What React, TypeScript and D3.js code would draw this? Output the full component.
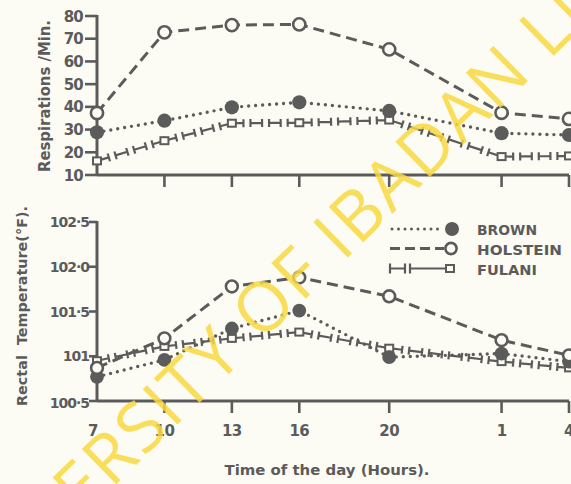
import React from "react";
import * as d3 from "d3";

// Time of day at which each reading was taken (clock hours, 7 am through 4 am next day)
const clockHours = [7, 10, 13, 16, 20, 1, 4];
const hourLabels = ["7", "10", "13", "16", "20", "1", "4"];

// Respiration rate (breaths / min)
const respBrown = [28.8, 33.9, 39.8, 42.0, 38.2, 28.4, 27.6];
const respHolstein = [37.3, 72.8, 76.0, 76.3, 65.3, 37.4, 34.7];
const respFulani = [16.2, 25.1, 32.8, 33.0, 34.2, 18.1, 18.4];

// Rectal temperature (°F)
const tempBrown = [100.77, 100.96, 101.31, 101.51, 100.99, 101.03, 100.94];
const tempHolstein = [100.87, 101.2, 101.78, 101.88, 101.67, 101.18, 101.01];
const tempFulani = [100.95, 101.11, 101.2, 101.27, 101.09, 100.94, 100.87];

const respTicks = [10, 20, 30, 40, 50, 60, 70, 80];
const tempTicks = [100.5, 101, 101.5, 102, 102.5];
const tempTickLabels = ["100·5", "101", "101·5", "102·0", "102·5"];

const seriesNames = ["BROWN", "HOLSTEIN", "FULANI"];

const INK = "#5b5b5b";
const PAPER = "#fdfcf4";
const FONT = "'DejaVu Sans', Verdana, sans-serif";

// hours elapsed on a continuous clock (after midnight continues past 24)
const elapsed = (h: number) => (h < 7 ? h + 24 : h);

const x = d3.scaleLinear().domain([7, 28]).range([97, 569]);
const yResp = d3.scaleLinear().domain([10, 80]).range([175, 16]);
const yTemp = d3.scaleLinear().domain([100.5, 102.5]).range([401, 222]);

type Pt = [number, number];

// Dashes with perpendicular end caps ("|—|"), restarted on every segment
function cappedDashes(points: Pt[], dash: number, gap: number, cap: number, startCap = true, endCap = true) {
  const out: { d: string }[] = [];
  for (let i = 0; i < points.length - 1; i++) {
    const [x0, y0] = points[i];
    const [x1, y1] = points[i + 1];
    const L = Math.hypot(x1 - x0, y1 - y0);
    const ux = (x1 - x0) / L;
    const uy = (y1 - y0) / L;
    const px = -uy * (cap / 2);
    const py = ux * (cap / 2);
    const n = Math.max(1, Math.round((L + gap) / (dash + gap)));
    const unit = (L + gap) / n;
    const dl = unit - gap;
    for (let k = 0; k < n; k++) {
      const s = k * unit;
      const e = s + dl;
      const ax = x0 + ux * s, ay = y0 + uy * s;
      const bx = x0 + ux * e, by = y0 + uy * e;
      let d = `M${ax},${ay}L${bx},${by}`;
      if (startCap) d += `M${ax - px},${ay - py}L${ax + px},${ay + py}`;
      if (endCap) d += `M${bx - px},${by - py}L${bx + px},${by + py}`;
      out.push({ d });
    }
  }
  return out;
}

const lineGen = d3.line<Pt>().x((p) => p[0]).y((p) => p[1]);

function Panel({
  y,
  brown,
  holstein,
  fulani,
  r,
}: {
  y: d3.ScaleLinear<number, number>;
  brown: number[];
  holstein: number[];
  fulani: number[];
  r: number;
}) {
  const pts = (vals: number[]): Pt[] => vals.map((v, i) => [x(elapsed(clockHours[i])), y(v)]);
  const pb = pts(brown);
  const ph = pts(holstein);
  const pf = pts(fulani);
  return (
    <g>
      {/* Fulani: capped dashes with small open squares */}
      {cappedDashes(pf, 13, 7, 8).map((s, i) => (
        <path key={i} d={s.d} stroke={INK} strokeWidth={2.2} fill="none" />
      ))}
      {/* Brown: dotted */}
      <path d={lineGen(pb) || ""} stroke={INK} strokeWidth={3.4} strokeDasharray="0 7" strokeLinecap="round" fill="none" />
      {/* Holstein: dashed */}
      <path d={lineGen(ph) || ""} stroke={INK} strokeWidth={3} strokeDasharray="11 6" fill="none" />
      {pf.map((p, i) => (
        <rect key={i} x={p[0] - 4} y={p[1] - 3.5} width={8} height={7} fill={PAPER} stroke={INK} strokeWidth={2} />
      ))}
      {pb.map((p, i) => (
        <circle key={i} cx={p[0]} cy={p[1]} r={r + 0.6} fill={INK} />
      ))}
      {ph.map((p, i) => (
        <circle key={i} cx={p[0]} cy={p[1]} r={r - 0.4} fill={PAPER} stroke={INK} strokeWidth={2.6} />
      ))}
    </g>
  );
}

function XAxis({ y0, labels }: { y0: number; labels: boolean }) {
  return (
    <g>
      <line x1={x(7)} x2={x(28)} y1={y0} y2={y0} stroke={INK} strokeWidth={3} />
      {clockHours.slice(1).map((h) => (
        <line key={h} x1={x(elapsed(h))} x2={x(elapsed(h))} y1={y0} y2={y0 + 12} stroke={INK} strokeWidth={2.6} />
      ))}
      {labels &&
        clockHours.map((h, i) => (
          <text
            key={h}
            x={x(elapsed(h)) - (i === 0 ? 4 : 0)}
            y={y0 + 35}
            textAnchor="middle"
            fontFamily={FONT}
            fontWeight="bold"
            fontSize={15}
            fill={INK}
            letterSpacing={-0.6}
          >
            {hourLabels[i]}
          </text>
        ))}
    </g>
  );
}

export default function App() {
  const x0 = x(7);
  return (
    <svg width={571} height={484} style={{ position: "absolute", left: 0, top: 0, background: PAPER }}>
      <rect width={571} height={484} fill={PAPER} />

      {/* ---------- Respirations panel ---------- */}
      <line x1={x0} x2={x0} y1={yResp(80) - 1} y2={yResp(10)} stroke={INK} strokeWidth={3} />
      {respTicks.map((t) => (
        <g key={t}>
          <line x1={x0 - 12} x2={x0} y1={yResp(t)} y2={yResp(t)} stroke={INK} strokeWidth={2.6} />
          <text
            x={x0 - 14}
            y={yResp(t) + 5.5}
            textAnchor="end"
            fontFamily={FONT}
            fontWeight="bold"
            fontSize={15}
            fill={INK}
            letterSpacing={-0.8}
          >
            {t}
          </text>
        </g>
      ))}
      <XAxis y0={yResp(10)} labels={false} />
      <text
        transform="translate(50,96) rotate(-90)"
        textAnchor="middle"
        fontFamily={FONT}
        fontWeight="bold"
        fontSize={15}
        fill={INK}
        textLength={152}
        lengthAdjust="spacingAndGlyphs"
      >
        Respirations /Min.
      </text>
      <Panel y={yResp} brown={respBrown} holstein={respHolstein} fulani={respFulani} r={6.5} />

      {/* ---------- Rectal temperature panel ---------- */}
      <line x1={x0} x2={x0} y1={yTemp(102.5) - 1} y2={yTemp(100.5)} stroke={INK} strokeWidth={3} />
      {tempTicks.map((t, i) => (
        <g key={t}>
          <line x1={x0 - 8} x2={x0} y1={yTemp(t)} y2={yTemp(t)} stroke={INK} strokeWidth={2.6} />
          <text
            x={x0 - 8}
            y={yTemp(t) + (i === 0 ? 7 : 5)}
            textAnchor="end"
            fontFamily={FONT}
            fontWeight="bold"
            fontSize={14}
            fill={INK}
            letterSpacing={-1}
          >
            {tempTickLabels[i]}
          </text>
        </g>
      ))}
      <XAxis y0={yTemp(100.5)} labels={true} />
      <text
        transform="translate(27,306) rotate(-90)"
        textAnchor="middle"
        fontFamily={FONT}
        fontWeight="bold"
        fontSize={14}
        fill={INK}
        textLength={200}
        lengthAdjust="spacingAndGlyphs"
        style={{ whiteSpace: "pre" }}
      >
        {"Rectal  Temperature(°F)."}
      </text>
      <text
        x={327}
        y={475}
        textAnchor="middle"
        fontFamily={FONT}
        fontWeight="bold"
        fontSize={14}
        fill={INK}
        textLength={205}
        lengthAdjust="spacingAndGlyphs"
      >
        Time of the day (Hours).
      </text>
      <Panel y={yTemp} brown={tempBrown} holstein={tempHolstein} fulani={tempFulani} r={6.3} />

      {/* ---------- Legend ---------- */}
      <g>
        <path d="M392,229L444,229" stroke={INK} strokeWidth={3} strokeDasharray="0 6.5" strokeLinecap="round" fill="none" />
        <circle cx={452} cy={229} r={7} fill={INK} />
        <path d="M390,248.5L444,248.5" stroke={INK} strokeWidth={3} strokeDasharray="10 5" fill="none" />
        <circle cx={451} cy={248.5} r={5.6} fill={PAPER} stroke={INK} strokeWidth={2.6} />
        {cappedDashes([[390, 268.5], [405, 268.5]], 15, 0, 10).map((s, i) => (
          <path key={"a" + i} d={s.d} stroke={INK} strokeWidth={2.2} fill="none" />
        ))}
        {cappedDashes([[410, 268.5], [446, 268.5]], 36, 0, 10, true, false).map((s, i) => (
          <path key={"b" + i} d={s.d} stroke={INK} strokeWidth={2.2} fill="none" />
        ))}
        <rect x={446} y={265} width={8} height={7} fill={PAPER} stroke={INK} strokeWidth={2} />
        {seriesNames.map((n, i) => (
          <text
            key={n}
            x={477}
            y={235 + i * 20}
            fontFamily={FONT}
            fontWeight="bold"
            fontSize={14}
            fill={INK}
            textLength={[60, 85, 60][i]}
            lengthAdjust="spacingAndGlyphs"
          >
            {n}
          </text>
        ))}
      </g>

      {/* ---------- Library stamp ---------- */}
      <g
        transform="translate(324,243) rotate(-44.4)"
        fill="#f7d840"
        fillOpacity={0.85}
        fontFamily="'Open Sans', 'DejaVu Sans', sans-serif"
        fontSize={69}
        letterSpacing={2.5}
      >
        <text x={0} y={0} textAnchor="end" dominantBaseline="central" style={{ whiteSpace: "pre" }}>
          {"UNIVERSITY OF "}
        </text>
        <text x={0} y={0} textAnchor="start" dominantBaseline="central">
          IBADAN LIBRARY
        </text>
      </g>
    </svg>
  );
}
